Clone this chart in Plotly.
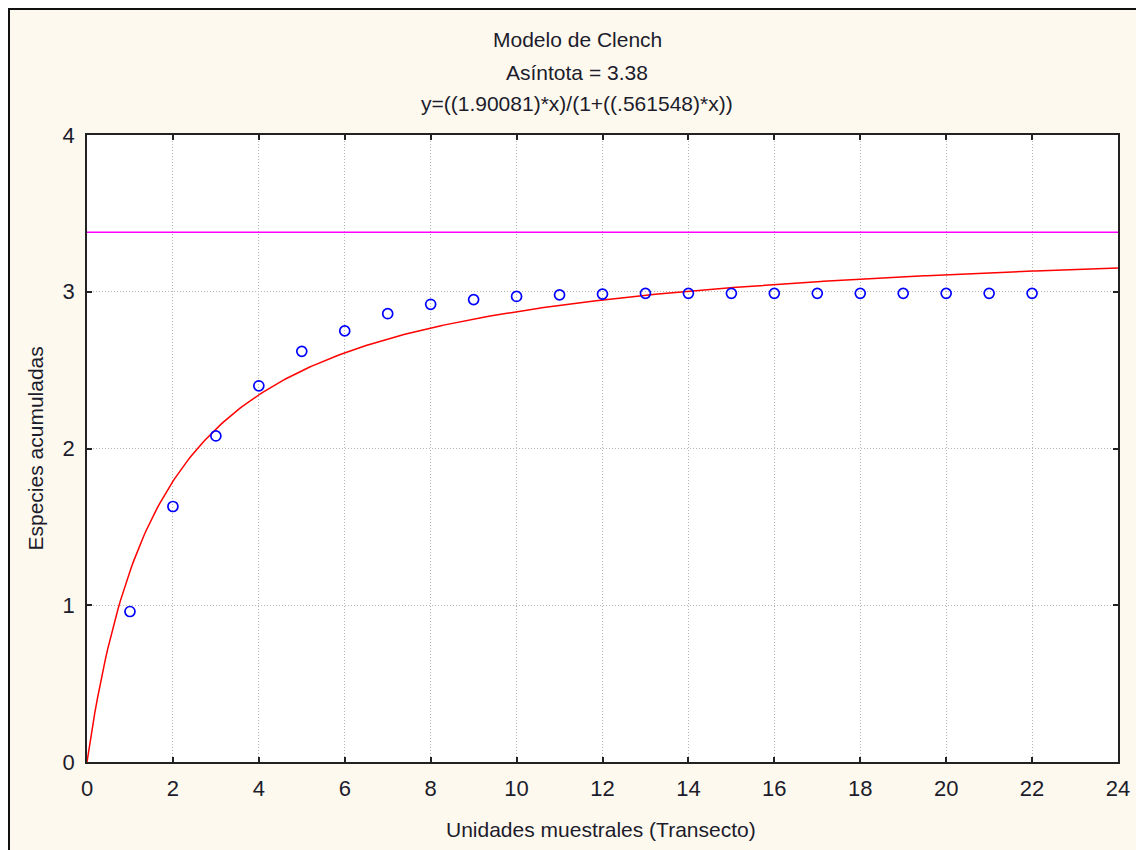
import numpy as np
import plotly.graph_objects as go

# Observed accumulated species per sampling unit
units = list(range(1, 23))
species = [0.96, 1.63, 2.08, 2.40, 2.62, 2.75, 2.86, 2.92, 2.95, 2.97, 2.98,
           2.985, 2.99, 2.99, 2.99, 2.99, 2.99, 2.99, 2.99, 2.99, 2.99, 2.99]

# Clench model parameters (from the chart's title)
a_param = 1.90081
b_param = 0.561548
asymptote = 3.38

x_ticks = list(range(0, 25, 2))
y_ticks = [0, 1, 2, 3, 4]

x_fit = np.linspace(0, 24, 400)
y_fit = a_param * x_fit / (1 + b_param * x_fit)

FONT = "Liberation Sans, Arial, sans-serif"
TXT = "#1c1c2c"

# figure geometry (page offset of 8px from body margin)
W, H = 1128, 842
L, R, T, B = 79, 18, 127, 88
PW, PH = W - L - R, H - T - B


def px(xp):  # figure px -> paper x
    return (xp - L) / PW


def py(yp):  # figure px (from top) -> paper y
    return (H - B - yp) / PH


fig = go.Figure()
fig.add_trace(go.Scatter(x=[0, 24], y=[asymptote, asymptote], mode="lines",
                         line=dict(color="#ff00ff", width=1.5), hoverinfo="skip"))
fig.add_trace(go.Scatter(x=x_fit, y=y_fit, mode="lines",
                         line=dict(color="#ff0000", width=1.5)))
fig.add_trace(go.Scatter(x=units, y=species, mode="markers",
                         marker=dict(symbol="circle-open", size=10, color="#0000ff",
                                     line=dict(width=1.7, color="#0000ff"))))

axis_common = dict(
    showline=True, linecolor="#222222", linewidth=1.5, mirror="ticks",
    ticks="inside", ticklen=5, tickcolor="#222222", tickwidth=1.5,
    showgrid=True, gridcolor="#b4b4b4", griddash="1px,2px", gridwidth=1,
    zeroline=False, automargin=False,
    tickfont=dict(family=FONT, size=22, color=TXT),
)

fig.update_xaxes(range=[0, 24], tickvals=x_ticks, ticklabelstandoff=6, **axis_common)
fig.update_yaxes(range=[0, 4], tickvals=y_ticks, ticklabelstandoff=6, **axis_common)

titles = ["Modelo de Clench", "Asíntota = 3.38",
          "y=((1.90081)*x)/(1+((.561548)*x))"]
ys = [40, 72, 104]
for t, yy in zip(titles, ys):
    fig.add_annotation(text=t, xref="paper", yref="paper", x=px(577 - 8),
                       y=py(yy - 8), showarrow=False, xanchor="center",
                       yanchor="middle", font=dict(family=FONT, size=21, color=TXT))

# axis titles
fig.add_annotation(text="Unidades muestrales (Transecto)", xref="paper", yref="paper",
                   x=px(601 - 8), y=py(829 - 8), showarrow=False, xanchor="center",
                   yanchor="middle", font=dict(family=FONT, size=21, color=TXT))
fig.add_annotation(text="Especies acumuladas", xref="paper", yref="paper",
                   x=px(35 - 8), y=0.5, showarrow=False, xanchor="center",
                   yanchor="middle", textangle=-90,
                   font=dict(family=FONT, size=21, color=TXT))

# outer frame lines (top and left)
fig.add_shape(type="line", xref="paper", yref="paper",
              x0=px(0), x1=px(W), y0=py(1), y1=py(1),
              line=dict(color="#111111", width=2))
fig.add_shape(type="line", xref="paper", yref="paper",
              x0=px(1), x1=px(1), y0=py(0), y1=py(H),
              line=dict(color="#111111", width=2))

fig.update_layout(
    width=W, height=H,
    margin=dict(l=L, r=R, t=T, b=B, autoexpand=False),
    paper_bgcolor="#fef9ee", plot_bgcolor="#ffffff",
    showlegend=False,
)

fig.write_html(
    "out.html",
    config={"responsive": False},
    post_script="document.body.style.margin='8px 0 0 8px';"
                "document.body.style.overflow='hidden';",
)
